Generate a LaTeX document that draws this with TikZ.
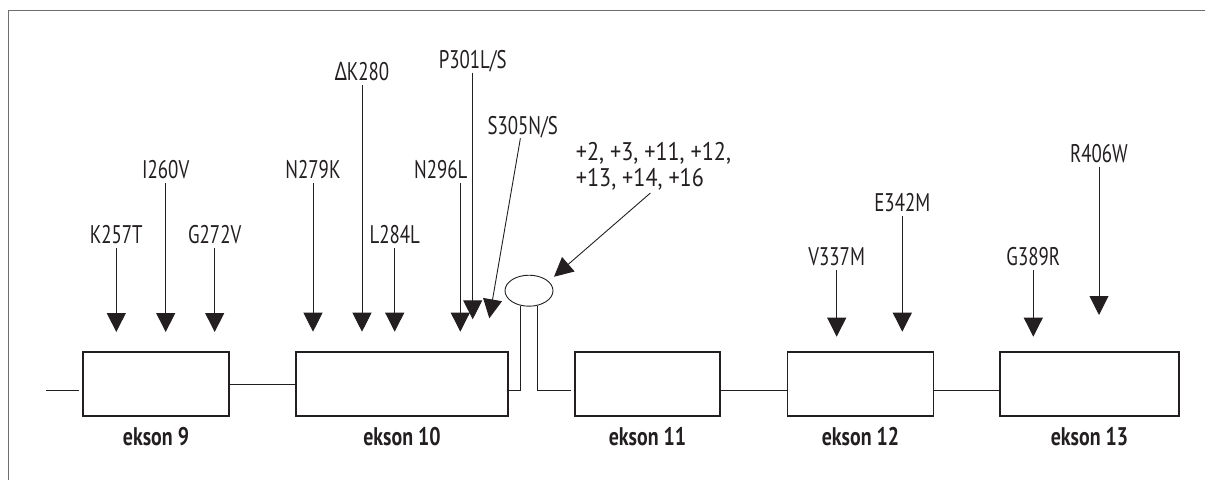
\documentclass[tikz,border=0pt]{standalone}
\usepackage{fontspec}
\setmainfont[FakeStretch=0.74, BoldFeatures={FakeStretch=0.78}]{PT Sans}
\newfontfamily\deltafont[FakeStretch=0.74]{Noto Sans}
\newfontfamily\splicefont[FakeStretch=0.87]{PT Sans}
\usepackage{xcolor}
\definecolor{ink}{HTML}{231F20}
\definecolor{frame-gray}{HTML}{6D6E71}
\usetikzlibrary{arrows.meta, positioning, shapes.geometric}

\begin{document}
\begin{tikzpicture}[x=1pt, y=-1pt,
    every node/.style={font=\fontsize{25.5}{26}\selectfont, text=ink},
    exon/.style={draw=ink, line width=1.2pt, minimum height=64pt, inner sep=0},
    exlab/.style={below=7pt of #1, font=\fontsize{25.5}{26}\selectfont\bfseries},
    mlab/.style={anchor=south, text depth=0pt, inner xsep=2pt, inner ysep=4pt},
    mut/.style={-{Triangle[width=19pt, length=19pt]}, draw=ink, line width=0.9pt},
    intron/.style={draw=ink, line width=0.9pt}]
  \useasboundingbox (0,0) rectangle (1205,480);
  % frame (cut off at right and bottom)
  \draw[frame-gray, line width=0.9pt] (8,480) -- (8,10.5) -- (1205,10.5);

  % exons
  \node[exon, minimum width=146pt] (e9) at (156,384) {};
  \node[exon, minimum width=212pt] (e10) at (402,384) {};
  \node[exon, minimum width=145pt] (e11) at (647.5,384) {};
  \node[exon, minimum width=146pt] (e12) at (860.5,384) {};
  \node[exon, minimum width=179pt] (e13) at (1089.5,384) {};
  \node[exlab=e9] (l9) {ekson 9};
  \node[exlab=e10] (l10) {ekson 10};
  \node[exlab=e11] (l11) {ekson 11};
  \node[exlab=e12] (l12) {ekson 12};
  \node[exlab=e13] (l13) {ekson 13};

  % introns and the stem loop
  \node[draw=ink, ellipse, line width=0.9pt, minimum width=48pt,
    minimum height=31pt, inner sep=0] (loop) at (529,290.7) {};
  \coordinate (iy) at (0,390);
  \coordinate (lead) at (46,390);
  \draw[intron, shorten >=3pt] (lead) -- (e9.west |- iy);
  \draw[intron] (e9) -- (e10);
  \draw[intron] (e10.east |- iy) -| (loop.241);
  \draw[intron, shorten >=3pt] (loop.299) |- (e11.west |- iy);
  \draw[intron] (e11.east |- iy) -- (e12.west |- iy);
  \draw[intron] (e12.east |- iy) -- (e13.west |- iy);

  % mutations, ekson 9
  \node[mlab] (k257) at (116.3,248) {K257T};
  \node[mlab] (i260) at (165.7,183) {I260V};
  \node[mlab] (g272) at (214.7,248) {G272V};
  \coordinate (t257) at (116.3,332);
  \coordinate (t260) at (165.7,332);
  \coordinate (t272) at (214.7,332);
  \draw[mut] (k257) -- (t257);
  \draw[mut] (i260) -- (t260);
  \draw[mut] (g272) -- (t272);

  % mutations, ekson 10
  \node[mlab] (n279) at (313,183) {N279K};
  \node[mlab] (k280) at (362,85) {{\deltafont Δ}K280};
  \node[mlab] (l284) at (394.7,248) {L284L};
  \node[mlab] (n296) at (440.7,182.7) {N296L};
  \node[mlab] (p301) at (472.7,72.7) {P301L/S};
  \node[mlab] (s305) at (522.7,138.3) {S305N/S};
  \coordinate (t279) at (313,331.7);
  \coordinate (t280) at (362,331.7);
  \coordinate (t284) at (394.7,331.7);
  \coordinate (t296) at (460.3,331.7);
  \coordinate (t301) at (472.7,319.3);
  \coordinate (t305) at (489.3,318.3);
  \draw[mut] (n279) -- (t279);
  \draw[mut] (k280) -- (t280);
  \draw[mut] (l284) -- (t284);
  \draw[mut] (n296.south -| t296) -- (t296);
  \draw[mut] (p301) -- (t301);
  \draw[mut] (s305) -- (t305);

  % intronic mutations
  \node[anchor=north west, align=left, inner sep=0,
    font=\fontsize{25.5}{26}\splicefont] (splab) at (575.7,142)
    {+2, +3, +11, +12,\\+13, +14, +16};
  \coordinate (tsp) at (554,276.7);
  \draw[mut, shorten <=4pt] (splab.south) -- (tsp);

  % mutations, ekson 12 and 13
  \node[mlab] (v337) at (836.7,270) {V337M};
  \node[mlab] (e342) at (902.3,216) {E342M};
  \node[mlab] (g389) at (1033.3,270) {G389R};
  \node[mlab] (r406) at (1099,166.7) {R406W};
  \coordinate (t337) at (836.7,336.7);
  \coordinate (t342) at (902.3,331.7);
  \coordinate (t389) at (1033.3,336.7);
  \coordinate (t406) at (1099,315);
  \draw[mut] (v337) -- (t337);
  \draw[mut] (e342) -- (t342);
  \draw[mut] (g389) -- (t389);
  \draw[mut] (r406) -- (t406);
\end{tikzpicture}
\end{document}
